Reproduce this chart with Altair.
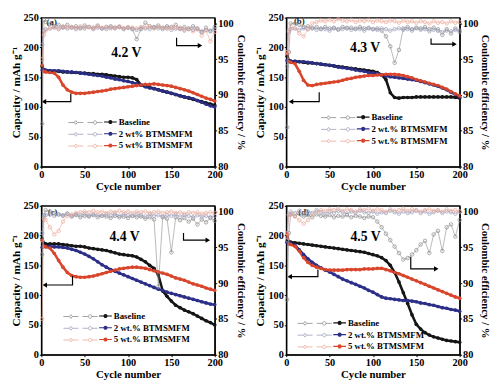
import altair as alt
import pandas as pd

CYCLES = [1, 3, 5, 10, 15, 20, 25, 30, 35, 40, 45, 50, 55, 60, 65, 70, 75, 80, 85, 90, 95, 100,
          105, 110, 115, 120, 125, 130, 135, 140, 145, 150, 155, 160, 165, 170, 175, 180, 185, 190, 195, 200]

NAMES_A = ["Baseline", "2 wt% BTMSMFM", "5 wt% BTMSMFM"]
NAMES_B = ["Baseline", "2 wt.% BTMSMFM", "5 wt.% BTMSMFM"]
LINE_IDS = ["s0", "s1", "s2"]
CAP_COLORS = ["#151515", "#2c2f88", "#d9462c"]
CE_COLORS = ["#8a8a8a", "#9c9fbb", "#eca898"]

# ---- panel (a) 4.2 V ----
CAP_A_BASE = [168, 162, 161, 161, 160, 160, 159, 159, 158, 158, 157, 157, 156, 156, 155, 155, 154, 153, 152, 151, 150, 150,
              149, 146, 137, 135, 133, 131, 129, 127, 125, 123, 121, 119, 117, 115, 113, 111, 109, 107, 105, 103]
CAP_A_2 = [162, 162, 162, 161, 161, 161, 160, 159, 159, 158, 157, 156, 155, 154, 153, 152, 150, 149, 147, 146, 144, 143,
           141, 139, 137, 134, 132, 131, 129, 127, 125, 123, 121, 119, 117, 116, 114, 111, 108, 105, 102, 100]
CAP_A_5 = [170, 160, 159, 158, 157, 150, 137, 129, 125, 123, 123, 123, 124, 125, 126, 127, 128, 130, 131, 132, 133, 134,
           135, 136, 137, 138, 138, 139, 138, 137, 136, 135, 133, 131, 129, 127, 124, 121, 118, 115, 113, 110]
CE_A_BASE = [86, 100.5, 100.2, 99.9, 99.6, 99.8, 99.5, 99.8, 99.4, 99.6, 99.3, 99.7, 99.5, 99.4, 99.7, 99.3, 99.5, 99.6, 99.4, 99.5, 99.3, 99.4,
             99.2, 97.8, 99.2, 100.1, 99.6, 99.5, 99.7, 99.4, 99.6, 99.5, 99.8, 99.3, 99.5, 99.2, 99.6, 99.3, 98.8, 99.4, 98.9, 99.5]
CE_A_2 = [97, 99.0, 99.2, 99.3, 99.4, 99.2, 99.4, 99.3, 99.5, 99.2, 99.4, 99.3, 99.5, 99.2, 99.4, 99.3, 99.2, 99.4, 99.3, 99.5, 99.2, 99.4,
          99.3, 99.1, 99.4, 99.3, 99.2, 99.4, 99.3, 99.2, 99.4, 99.1, 99.3, 99.2, 99.0, 99.3, 99.1, 99.2, 98.9, 99.1, 99.0, 99.2]
CE_A_5 = [95, 98.4, 99.0, 99.3, 99.5, 99.3, 99.6, 99.4, 99.5, 99.3, 99.6, 99.4, 99.5, 99.3, 99.6, 99.4, 99.5, 99.3, 99.4, 99.6, 99.3, 99.5,
          99.4, 99.3, 99.5, 99.4, 99.6, 99.3, 99.5, 99.4, 99.2, 99.5, 99.3, 99.4, 99.1, 99.3, 98.9, 99.2, 98.3, 99.0, 97.5, 98.8]

# ---- panel (b) 4.3 V ----
CAP_B_BASE = [185, 178, 177, 176, 176, 175, 174, 174, 173, 172, 171, 170, 169, 168, 167, 166, 165, 164, 163, 162, 161, 160,
              158, 154, 146, 124, 116, 115, 116, 116, 116, 117, 117, 117, 117, 117, 117, 117, 117, 117, 116, 115]
CAP_B_2 = [178, 177, 177, 177, 176, 176, 175, 174, 173, 172, 171, 170, 169, 167, 166, 165, 164, 162, 161, 160, 158, 157,
           156, 154, 152, 151, 150, 149, 148, 147, 146, 145, 143, 141, 139, 137, 135, 132, 129, 125, 121, 117]
CAP_B_5 = [190, 176, 175, 173, 160, 145, 137, 136, 138, 139, 140, 141, 142, 143, 145, 147, 148, 150, 151, 152, 153, 153,
           154, 154, 155, 155, 155, 154, 153, 151, 149, 146, 144, 142, 140, 138, 136, 133, 130, 126, 122, 119]
CE_B_BASE = [85.5, 96, 100.0, 100.0, 99.8, 99.5, 99.6, 99.3, 99.5, 99.2, 99.5, 99.3, 99.4, 99.2, 99.5, 99.3, 99.4, 99.2, 99.5, 99.3, 99.4, 99.2,
             99.3, 99.0, 98.2, 96.8, 94.5, 96.3, 99.3, 99.5, 99.2, 99.4, 99.3, 99.5, 99.2, 99.4, 99.0, 98.4, 99.2, 98.6, 99.3, 98.8]
CE_B_2 = [94, 98.8, 99.2, 99.3, 99.1, 99.3, 99.2, 99.4, 99.1, 99.3, 99.2, 99.0, 99.3, 99.1, 99.2, 99.4, 99.1, 99.3, 99.2, 99.0, 99.3, 99.2,
          99.1, 99.3, 99.2, 99.0, 99.2, 99.3, 99.1, 99.2, 99.0, 99.3, 99.1, 99.2, 98.9, 99.1, 99.2, 98.8, 99.0, 98.9, 99.1, 99.0]
CE_B_5 = [96, 99.0, 99.5, 99.3, 98.6, 98.2, 99.2, 100.0, 100.2, 100.4, 100.3, 100.5, 100.3, 100.6, 100.4, 100.3, 100.5, 100.2, 100.4, 100.3, 100.5, 100.2,
          100.4, 100.3, 100.2, 100.4, 100.3, 100.1, 100.4, 100.2, 100.3, 100.1, 100.3, 100.2, 100.0, 100.3, 100.1, 100.2, 100.0, 100.3, 100.1, 100.2]

# ---- panel (c) 4.4 V ----
CAP_C_BASE = [195, 187, 186, 186, 186, 186, 185, 184, 183, 182, 182, 181, 179, 178, 177, 176, 175, 173, 171, 169, 168, 167,
              166, 164, 160, 156, 150, 145, 134, 107, 98, 90, 83, 79, 75, 72, 69, 65, 61, 57, 54, 50]
CAP_C_2 = [180, 182, 182, 182, 181, 181, 180, 179, 177, 175, 172, 169, 165, 161, 156, 151, 147, 143, 140, 137, 134, 131,
           128, 125, 122, 119, 116, 113, 110, 108, 105, 103, 101, 99, 97, 95, 93, 91, 89, 87, 85, 84]
CAP_C_5 = [192, 182, 181, 179, 170, 158, 147, 138, 133, 131, 130, 130, 131, 132, 134, 136, 138, 140, 142, 144, 145, 146,
           147, 147, 146, 145, 143, 141, 139, 137, 135, 132, 129, 127, 125, 122, 119, 117, 115, 112, 110, 108]
CE_C_BASE = [94, 99.5, 100.2, 100.0, 99.8, 99.6, 99.4, 99.7, 99.3, 99.5, 99.2, 99.4, 99.3, 99.5, 99.2, 99.4, 99.3, 99.1, 99.4, 99.2, 99.3, 99.1,
             99.4, 99.2, 99.3, 99.0, 99.2, 98.9, 89.5, 99.2, 99.0, 94.3, 99.2, 98.8, 99.1, 98.6, 99.0, 98.2, 98.9, 98.5, 99.1, 98.7]
CE_C_2 = [97, 99.3, 99.5, 99.6, 99.4, 99.6, 99.5, 99.7, 99.4, 99.6, 99.5, 99.7, 99.4, 99.6, 99.5, 99.4, 99.6, 99.5, 99.7, 99.4, 99.6, 99.5,
          99.4, 99.6, 99.5, 99.3, 99.6, 99.4, 99.5, 99.3, 99.5, 99.4, 99.6, 99.3, 99.5, 99.4, 99.2, 99.5, 99.3, 99.4, 99.2, 99.4]
CE_C_5 = [85, 99.0, 98.8, 97.8, 96.8, 97.3, 98.6, 99.4, 99.6, 99.8, 99.9, 100.0, 99.9, 100.1, 99.9, 100.0, 99.8, 100.0, 99.9, 100.1, 99.9, 100.0,
          99.8, 100.0, 99.9, 100.0, 99.8, 99.9, 100.0, 99.8, 99.9, 100.0, 99.8, 99.9, 99.7, 99.9, 99.8, 99.9, 99.7, 99.8, 99.9, 99.8]

# ---- panel (d) 4.5 V ----
CAP_D_BASE = [190, 189, 189, 188, 187, 186, 185, 184, 183, 182, 181, 180, 179, 178, 177, 176, 175, 174, 173, 172, 170, 168,
              166, 163, 158, 150, 138, 122, 104, 86, 67, 51, 43, 37, 33, 30, 28, 26, 24, 23, 22, 21]
CAP_D_2 = [188, 188, 187, 184, 176, 168, 161, 155, 150, 146, 142, 139, 135, 131, 127, 124, 121, 118, 115, 112, 108, 105,
           101, 97, 95, 94, 93, 92, 91, 91, 90, 89, 87, 86, 84, 83, 81, 79, 78, 76, 75, 73]
CAP_D_5 = [203, 186, 185, 182, 174, 163, 155, 150, 147, 145, 143, 142, 142, 142, 142, 143, 143, 143, 143, 144, 144, 144,
           145, 145, 143, 141, 138, 136, 133, 130, 127, 124, 121, 118, 115, 112, 109, 106, 103, 100, 97, 95]
CE_D_BASE = [87.7, 97, 99.6, 99.4, 99.7, 99.3, 99.5, 99.2, 99.6, 99.4, 99.3, 99.5, 99.2, 99.4, 99.3, 99.5, 99.2, 99.4, 99.3, 99.1, 99.3, 99.2,
             98.6, 97.8, 96.9, 96.0, 95.1, 94.2, 93.3, 93.5, 94.0, 94.6, 95.4, 95.9, 94.2, 96.8, 97.3, 94.5, 97.8, 98.2, 96.5, 98.8]
CE_D_2 = [96, 99.6, 100.0, 99.8, 100.1, 99.7, 100.0, 99.8, 100.2, 99.9, 99.7, 100.0, 99.8, 100.1, 99.9, 99.7, 100.0, 99.8, 100.1, 99.9, 99.8, 100.0,
          99.7, 99.9, 99.8, 100.1, 99.9, 99.7, 100.0, 99.8, 99.9, 100.1, 99.8, 100.0, 99.7, 99.9, 100.1, 99.8, 100.0, 99.9, 99.7, 100.0]
CE_D_5 = [97, 99.5, 99.7, 99.3, 98.8, 98.3, 98.8, 99.6, 100.0, 100.2, 100.1, 100.3, 100.2, 100.4, 100.1, 100.3, 100.2, 100.0, 100.3, 100.2, 100.4, 100.1,
          100.3, 100.2, 100.0, 100.3, 100.1, 100.2, 100.4, 100.1, 100.3, 100.2, 100.0, 100.2, 100.3, 100.1, 100.2, 100.0, 100.3, 100.1, 100.2, 100.0]

# annotation arrows (cycle, value) : left arrow on capacity axis, right arrow on CE axis
ARROW_L = {"a": ([34, 34, 3], [122, 109, 109]), "b": ([38, 38, 5.5], [125, 109, 109]),
           "c": ([36, 36, 4], [132, 117, 117]), "d": ([36.5, 36.5, 4], [143, 131, 131])}
ARROW_R = {"a": ([156, 156, 183], [98.0, 96.9, 96.9]), "b": ([167, 167, 194], [97.9, 97.1, 97.1]),
           "c": ([164, 164, 192], [97.0, 96.0, 96.0]), "d": ([143.6, 143.6, 173], [93.7, 92.0, 92.0])}
VOLT = {"a": ("4.2 V", 98, 191), "b": ("4.3 V", 91, 199), "c": ("4.4 V", 96, 197), "d": ("4.5 V", 91.5, 198)}
LETTER = {"a": ("(a)", 12, 243), "b": ("(b)", 15, 244), "c": ("(c)", 13, 240), "d": ("(d)", 20, 240)}
# legend placement: (ce legend left edge, capacity legend x, legend y)
LEG = {"a": (27, 64, 100), "b": (35, 72, 95), "c": (22, 59, 106), "d": (11, 48, 113)}

FONT = "Liberation Serif"
SYM_SIZE = 169  # 13 px symbol box; CE symbol drawn wider than its box
CAP_SYM = "M-1,-0.09L1,-0.09L1,0.09L-1,0.09Z M0.32,0A0.32,0.32,0,1,1,-0.32,0A0.32,0.32,0,1,1,0.32,0Z"
CE_SYM = ("M-2.69,0L-1.75,0 M-1.27,0L-0.32,0 M-1.51,-0.3L-1.27,0L-1.51,0.3L-1.75,0Z "
          "M0.32,0L1.24,0 M1.78,0L2.69,0 M1.78,0A0.27,0.27,0,1,1,1.24,0A0.27,0.27,0,1,1,1.78,0Z")
CE_SHIFT_X = 11   # CE symbol extends 11 px left of its box
ROW_PAD = -1.5

XAXIS = alt.Axis(values=[0, 50, 100, 150, 200], title="Cycle number", labelFlush=False,
                 titleFontSize=11, titlePadding=1)
YL = alt.Axis(orient="left", values=[0, 50, 100, 150, 200, 250], title="Capacity / mAh g\u207b\u00b9",
              labelFlush=False, titlePadding=2, titleFontSize=11.5)
YR = alt.Axis(orient="right", values=[80, 85, 90, 95, 100], title="Coulombic efficiency / %",
              labelFlush=False, titlePadding=2, titleFontSize=11)


def long_frame(names, arrays, field):
    rows = []
    for name, sid, vals in zip(names, LINE_IDS, arrays):
        assert len(vals) == len(CYCLES), (name, len(vals))
        for c, v in zip(CYCLES, vals):
            rows.append({"cycle": c, field: v, "series": name, "sid": sid})
    return pd.DataFrame(rows)


def panel(key, names, cap_arrays, ce_arrays):
    cap_df = long_frame(names, cap_arrays, "cap")
    ce_df = long_frame(names, ce_arrays, "ce")
    x = alt.X("cycle:Q", scale=alt.Scale(domain=[0, 200], nice=False), axis=XAXIS)
    yl = alt.Y("cap:Q", scale=alt.Scale(domain=[0, 250], nice=False), axis=YL)
    yr = alt.Y("ce:Q", scale=alt.Scale(domain=[80, 100.8], nice=False), axis=YR)
    cap_scale = alt.Scale(domain=names, range=CAP_COLORS)
    ce_scale = alt.Scale(domain=names, range=CE_COLORS)
    cap_line_scale = alt.Scale(domain=LINE_IDS, range=CAP_COLORS)
    ce_line_scale = alt.Scale(domain=LINE_IDS, range=CE_COLORS)
    lx_ce, lx_cap, ly = LEG[key]

    cap_leg = alt.Legend(orient="none", legendX=lx_cap, legendY=ly, title=None, symbolType=CAP_SYM,
                         symbolSize=SYM_SIZE, symbolStrokeWidth=0, labelOffset=2, rowPadding=ROW_PAD,
                         padding=0, labelFont=FONT, labelFontSize=9, labelFontWeight="bold",
                         labelColor="black")
    ce_leg = alt.Legend(orient="none", legendX=lx_ce + CE_SHIFT_X, legendY=ly, title=None,
                        symbolType=CE_SYM, symbolSize=SYM_SIZE, symbolStrokeWidth=0.8, labelExpr="' '",
                        labelOffset=2, rowPadding=ROW_PAD, padding=0, labelFont=FONT, labelFontSize=9,
                        labelFontWeight="bold")

    cap_line = alt.Chart(cap_df).mark_line(strokeWidth=2.6).encode(
        x=x, y=yl, stroke=alt.Stroke("sid:N", scale=cap_line_scale, legend=None))
    cap_pts = alt.Chart(cap_df).mark_point(filled=True, size=14, opacity=1).encode(
        x=x, y=yl, color=alt.Color("series:N", scale=cap_scale, legend=cap_leg))

    axl, ayl = ARROW_L[key]
    al_df = pd.DataFrame({"cycle": axl, "cap": ayl, "i": [0, 1, 2]})
    arrow_l = alt.Chart(al_df).mark_line(color="black", strokeWidth=1.2).encode(x=x, y=yl, order="i:Q")
    head_l = alt.Chart(al_df.tail(1)).mark_point(shape="triangle-left", filled=True, color="black",
                                                 size=28, opacity=1).encode(x=x, y=yl)
    vt, vx, vy = VOLT[key]
    lt, lxx, lyy = LETTER[key]
    txt_df = pd.DataFrame({"cycle": [vx], "cap": [vy], "label": [vt]})
    let_df = pd.DataFrame({"cycle": [lxx], "cap": [lyy], "label": [lt]})
    volt = alt.Chart(txt_df).mark_text(font=FONT, fontSize=14, fontWeight="bold", color="black").encode(
        x=x, y=yl, text="label:N")
    letter = alt.Chart(let_df).mark_text(font=FONT, fontSize=9, fontWeight="bold", color="#222").encode(
        x=x, y=yl, text="label:N")

    ce_line = alt.Chart(ce_df).mark_line(strokeWidth=0.7, opacity=0.85).encode(
        x=x, y=yr, stroke=alt.Stroke("sid:N", scale=ce_line_scale, legend=None))
    ce_pts = alt.Chart(ce_df).mark_point(filled=False, size=13, strokeWidth=0.7, opacity=1).encode(
        x=x, y=yr, color=alt.Color("series:N", scale=ce_scale, legend=ce_leg))
    axr, ayr = ARROW_R[key]
    ar_df = pd.DataFrame({"cycle": axr, "ce": ayr, "i": [0, 1, 2]})
    arrow_r = alt.Chart(ar_df).mark_line(color="black", strokeWidth=1.2).encode(x=x, y=yr, order="i:Q")
    head_r = alt.Chart(ar_df.tail(1)).mark_point(shape="triangle-right", filled=True, color="black",
                                                 size=28, opacity=1).encode(x=x, y=yr)

    cap_layer = alt.layer(cap_line, cap_pts, arrow_l, head_l, volt, letter)
    ce_layer = alt.layer(ce_line, ce_pts, arrow_r, head_r)
    return alt.layer(cap_layer, ce_layer).resolve_scale(
        y="independent", color="independent", stroke="independent"
    ).properties(width=177, height=152)


pa = panel("a", NAMES_A, [CAP_A_BASE, CAP_A_2, CAP_A_5], [CE_A_BASE, CE_A_2, CE_A_5])
pb = panel("b", NAMES_B, [CAP_B_BASE, CAP_B_2, CAP_B_5], [CE_B_BASE, CE_B_2, CE_B_5])
pc = panel("c", NAMES_B, [CAP_C_BASE, CAP_C_2, CAP_C_5], [CE_C_BASE, CE_C_2, CE_C_5])
pd_ = panel("d", NAMES_B, [CAP_D_BASE, CAP_D_2, CAP_D_5], [CE_D_BASE, CE_D_2, CE_D_5])

chart = alt.concat(pa, pb, pc, pd_, columns=2, spacing={"row": 7, "column": 7}).resolve_scale(
    color="independent", stroke="independent"
).properties(
    padding={"left": 1, "top": 0, "right": 0, "bottom": 0}
).configure_view(
    stroke="black", strokeWidth=1.3
).configure_axis(
    grid=False, domainColor="black", domainWidth=1.3, tickColor="black", tickSize=2, tickWidth=1,
    labelFont=FONT, labelFontWeight="bold", labelFontSize=10.5, labelColor="black", labelPadding=1,
    titleFont=FONT, titleFontWeight="bold", titleColor="black"
)

chart.save("out.html", embed_options={"renderer": "svg", "actions": False})
